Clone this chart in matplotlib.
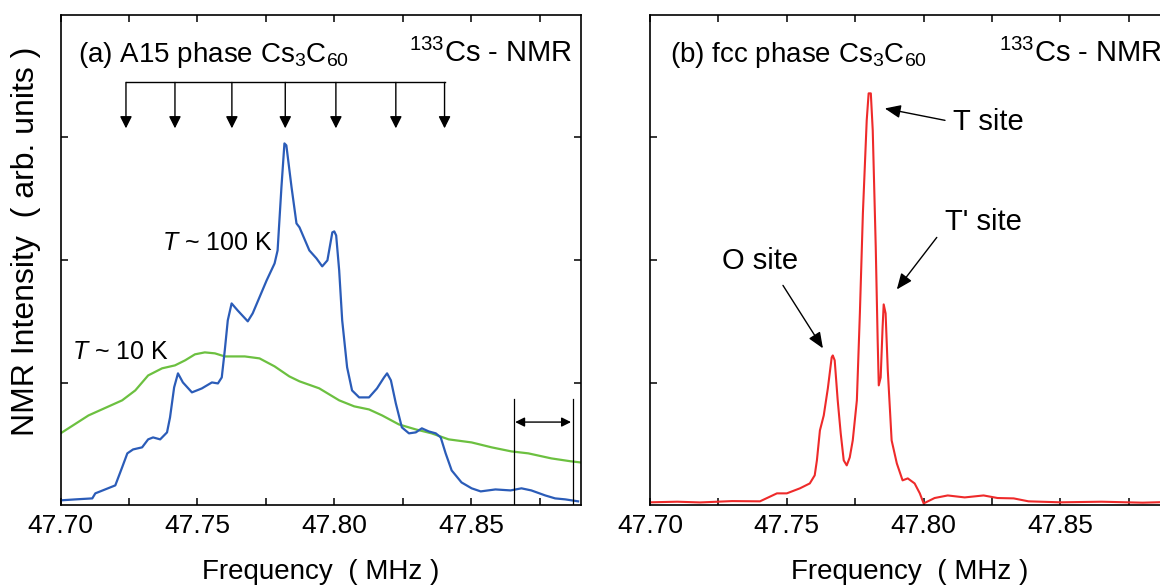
import matplotlib
matplotlib.use("Agg")
import matplotlib.pyplot as plt
from matplotlib.ticker import MultipleLocator, FormatStrFormatter

plt.rcParams['font.family'] = ['Liberation Sans', 'DejaVu Sans']
plt.rcParams['mathtext.fontset'] = 'custom'
plt.rcParams['mathtext.rm'] = 'Liberation Sans'
plt.rcParams['mathtext.it'] = 'Liberation Sans:italic'

# A15 phase, T ~ 100 K spectrum (MHz, arb. units)
a15_100k_freq = [47.7000, 47.7055, 47.7116, 47.7127, 47.7200, 47.7225, 47.7244, 47.7265,
                 47.7298, 47.7320, 47.7338, 47.7364, 47.7389, 47.7400, 47.7415, 47.7429,
                 47.7447, 47.7480, 47.7516, 47.7553, 47.7575, 47.7589, 47.7600, 47.7611,
                 47.7625, 47.7647, 47.7684, 47.7702, 47.7753, 47.7782, 47.7793, 47.7807,
                 47.7818, 47.7825, 47.7844, 47.7862, 47.7873, 47.7909, 47.7935, 47.7956,
                 47.7975, 47.7993, 47.8000, 47.8007, 47.8018, 47.8029, 47.8047, 47.8065,
                 47.8091, 47.8127, 47.8156, 47.8182, 47.8193, 47.8207, 47.8225, 47.8247,
                 47.8273, 47.8298, 47.8320, 47.8345, 47.8371, 47.8389, 47.8407, 47.8429,
                 47.8465, 47.8502, 47.8535, 47.8589, 47.8644, 47.8684, 47.8720, 47.8771,
                 47.8807, 47.8844, 47.8891]
a15_100k_int = [0.041, 0.049, 0.057, 0.098, 0.163, 0.310, 0.424, 0.456,
                0.473, 0.538, 0.554, 0.538, 0.595, 0.717, 0.962, 1.076,
                1.002, 0.921, 0.953, 1.002, 0.994, 1.043, 1.263, 1.508,
                1.646, 1.589, 1.500, 1.565, 1.834, 1.972, 2.078, 2.592,
                2.950, 2.934, 2.592, 2.298, 2.266, 2.078, 2.013, 1.948,
                1.997, 2.225, 2.233, 2.200, 1.915, 1.508, 1.125, 0.937,
                0.880, 0.880, 0.953, 1.043, 1.076, 1.019, 0.831, 0.636,
                0.587, 0.595, 0.628, 0.603, 0.587, 0.554, 0.424, 0.285,
                0.187, 0.139, 0.114, 0.130, 0.122, 0.139, 0.122, 0.081,
                0.057, 0.049, 0.033]

# A15 phase, T ~ 10 K spectrum
a15_10k_freq = [47.7000, 47.7102, 47.7225, 47.7273, 47.7320, 47.7371, 47.7418, 47.7455,
                47.7491, 47.7527, 47.7564, 47.7600, 47.7673, 47.7727, 47.7782, 47.7836,
                47.7873, 47.7945, 47.8018, 47.8073, 47.8127, 47.8175, 47.8236, 47.8298,
                47.8356, 47.8418, 47.8502, 47.8575, 47.8647, 47.8709, 47.8793, 47.8865,
                47.8900]
a15_10k_int = [0.587, 0.733, 0.856, 0.937, 1.059, 1.117, 1.141, 1.182,
               1.231, 1.247, 1.239, 1.214, 1.214, 1.198, 1.133, 1.051,
               1.011, 0.954, 0.856, 0.807, 0.782, 0.733, 0.660, 0.619,
               0.587, 0.538, 0.513, 0.473, 0.440, 0.424, 0.383, 0.359,
               0.350]

# fcc phase spectrum
fcc_freq = [47.7000, 47.7100, 47.7183, 47.7300, 47.7402, 47.7464, 47.7500, 47.7548,
            47.7584, 47.7602, 47.7610, 47.7621, 47.7635, 47.7650, 47.7664, 47.7668,
            47.7675, 47.7686, 47.7697, 47.7708, 47.7719, 47.7730, 47.7741, 47.7756,
            47.7767, 47.7778, 47.7792, 47.7799, 47.7807, 47.7814, 47.7825, 47.7832,
            47.7836, 47.7843, 47.7850, 47.7854, 47.7861, 47.7869, 47.7883, 47.7902,
            47.7923, 47.7942, 47.7967, 47.7986, 47.8000, 47.8040, 47.8088, 47.8150,
            47.8219, 47.8270, 47.8329, 47.8383, 47.8500, 47.8650, 47.8800, 47.8900]
fcc_int = [0.025, 0.030, 0.024, 0.035, 0.033, 0.098, 0.098, 0.139,
           0.179, 0.245, 0.367, 0.611, 0.733, 0.954, 1.206, 1.222,
           1.182, 0.856, 0.587, 0.367, 0.326, 0.391, 0.530, 0.856,
           1.565, 2.380, 3.138, 3.358, 3.358, 3.056, 2.103, 1.345,
           0.978, 1.043, 1.451, 1.638, 1.565, 1.100, 0.530, 0.342,
           0.204, 0.220, 0.179, 0.098, 0.016, 0.060, 0.081, 0.065,
           0.081, 0.060, 0.057, 0.033, 0.025, 0.030, 0.022, 0.028]

# 133Cs line positions marked above the A15 spectrum
a15_lines = [47.7239, 47.7418, 47.7626, 47.7821, 47.8006, 47.8225, 47.8403]

freq_ticks = [47.70, 47.75, 47.80, 47.85]
freq_range = (47.70, 47.89)

fig = plt.figure(figsize=(11.6, 5.88), dpi=100)
ax_a = fig.add_axes([0.0522, 0.1405, 0.4483, 0.8347])
ax_b = fig.add_axes([0.5603, 0.1405, 0.4483, 0.8347])

for ax in (ax_a, ax_b):
    ax.set_xlim(freq_range)
    ax.set_ylim(0, 4)
    ax.set_xticks(freq_ticks)
    ax.xaxis.set_major_formatter(FormatStrFormatter('%.2f'))
    ax.xaxis.set_minor_locator(MultipleLocator(0.025))
    ax.set_yticks([1, 2, 3])
    ax.tick_params(which='both', direction='in', top=True, right=True,
                   length=5, width=1.1, labelsize=19, pad=6, labelleft=False)
    for sp in ax.spines.values():
        sp.set_linewidth(1.2)
    ax.set_xlabel('Frequency  ( MHz )', fontsize=20, labelpad=15)

ax_a.set_ylabel('NMR Intensity  ( arb. units )', fontsize=23)
ax_a.yaxis.set_label_coords(-0.0375, 0.538)

# (a) A15 phase
ax_a.plot(a15_10k_freq, a15_10k_int, color='#6cc040', lw=1.6)
ax_a.plot(a15_100k_freq, a15_100k_int, color='#2b5cb8', lw=1.6)

ax_a.text(0.034, 0.9026, r'(a) A15 phase Cs$_3$C$_{60}$', transform=ax_a.transAxes,
          fontsize=20, va='baseline')
ax_a.text(0.985, 0.9026, r'$^{133}$Cs - NMR', transform=ax_a.transAxes,
          fontsize=21, va='baseline', ha='right')
ax_a.text(47.7372, 2.078, r'$\mathit{T}$ ~ 100 K', fontsize=18, va='baseline')
ax_a.text(47.7042, 1.19, r'$\mathit{T}$ ~ 10 K', fontsize=18, va='baseline')

bar_y, tip_y = 3.447, 3.073
ax_a.plot([a15_lines[0], a15_lines[-1]], [bar_y, bar_y], color='k', lw=1)
for f in a15_lines:
    ax_a.annotate('', xy=(f, tip_y), xytext=(f, bar_y),
                  arrowprops=dict(arrowstyle='-|>', color='k', lw=1,
                                  mutation_scale=18, shrinkA=0, shrinkB=0))

# linewidth bracket
bracket = [47.8655, 47.8871]
for f in bracket:
    ax_a.plot([f, f], [0, 0.864], color='k', lw=0.9)
ax_a.annotate('', xy=(bracket[1] - 0.0006, 0.679), xytext=(bracket[0] + 0.0006, 0.679),
              arrowprops=dict(arrowstyle='<|-|>', color='k', lw=1,
                              mutation_scale=14, shrinkA=0, shrinkB=0))

# (b) fcc phase
ax_b.plot(fcc_freq, fcc_int, color='#ee2a2a', lw=1.5)
ax_b.text(0.038, 0.9026, r'(b) fcc phase Cs$_3$C$_{60}$', transform=ax_b.transAxes,
          fontsize=20, va='baseline')
ax_b.text(0.985, 0.9026, r'$^{133}$Cs - NMR', transform=ax_b.transAxes,
          fontsize=21, va='baseline', ha='right')

site_arrow = dict(arrowstyle='-|>,head_length=0.6,head_width=0.25', color='k', lw=1,
                  mutation_scale=16, shrinkA=0, shrinkB=0)
ax_b.annotate('', xy=(47.7858, 3.235), xytext=(47.8078, 3.138), arrowprops=site_arrow)
ax_b.annotate('', xy=(47.7902, 1.760), xytext=(47.8048, 2.184), arrowprops=site_arrow)
ax_b.annotate('', xy=(47.7632, 1.280), xytext=(47.7486, 1.793), arrowprops=site_arrow)
ax_b.text(47.8106, 3.056, 'T site', fontsize=21, va='baseline')
ax_b.text(47.8077, 2.241, "T' site", fontsize=21, va='baseline')
ax_b.text(47.7263, 1.923, 'O site', fontsize=21, va='baseline')

fig.savefig('out.png', dpi=100)
